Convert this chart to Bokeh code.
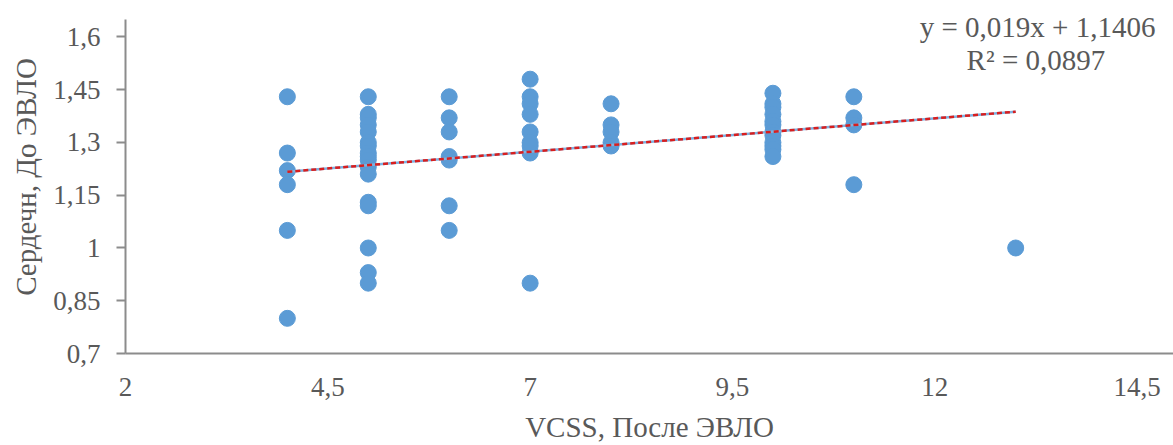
from bokeh.plotting import figure
from bokeh.models import FixedTicker, CustomJSTickFormatter, Label, Range1d
from bokeh.embed import file_html
from bokeh.resources import INLINE

# VCSS after treatment (x) vs. cardiac index before treatment (y)
vcss_4 = [1.43, 1.27, 1.22, 1.18, 1.05, 0.80]
vcss_5 = [1.43, 1.38, 1.37, 1.35, 1.33, 1.30, 1.29, 1.27, 1.26, 1.25, 1.23, 1.21,
          1.13, 1.12, 1.00, 0.93, 0.90]
vcss_6 = [1.43, 1.37, 1.33, 1.26, 1.25, 1.12, 1.05]
vcss_7 = [1.48, 1.43, 1.41, 1.38, 1.33, 1.30, 1.29, 1.27, 0.90]
vcss_8 = [1.41, 1.35, 1.33, 1.30, 1.29]
vcss_10 = [1.44, 1.41, 1.40, 1.38, 1.36, 1.35, 1.33, 1.32, 1.30, 1.29, 1.28, 1.26]
vcss_11 = [1.43, 1.37, 1.35, 1.18]
vcss_13 = [1.00]

groups = {4: vcss_4, 5: vcss_5, 6: vcss_6, 7: vcss_7, 8: vcss_8,
          10: vcss_10, 11: vcss_11, 13: vcss_13}
xs = [k for k, vals in groups.items() for _ in vals]
ys = [v for vals in groups.values() for v in vals]

# Linear trend as stated on the chart
slope = 0.019
intercept = 1.1406
r2 = 0.0897
trend_x = [min(xs), max(xs)]
trend_y = [slope * x + intercept for x in trend_x]

x_ticks = [2, 4.5, 7, 9.5, 12, 14.5]
y_ticks = [0.7, 0.85, 1.0, 1.15, 1.3, 1.45, 1.6]

FONT = "Liberation Serif"
TEXT = "#595959"
AXIS = "#8C8C8C"

# The frame reaches the top edge so the equation text has room;
# the visible y axis line stops at 1.65.
p = figure(width=1173, height=445, output_backend="svg", toolbar_location=None,
           x_range=Range1d(2, 14.95), y_range=Range1d(0.7, 1.7037),
           min_border_left=125, min_border_right=0, min_border_top=0,
           min_border_bottom=90)
p.outline_line_color = None
p.xgrid.visible = False
p.ygrid.visible = False
p.background_fill_color = "white"
p.border_fill_color = "white"

fmt = CustomJSTickFormatter(code="return String(Math.round(tick*100)/100).replace('.', ',');")

p.xaxis.ticker = FixedTicker(ticks=x_ticks)
p.yaxis.ticker = FixedTicker(ticks=y_ticks)
p.xaxis.formatter = fmt
p.yaxis.formatter = fmt
p.yaxis.bounds = (0.7, 1.65)

for ax in (p.xaxis, p.yaxis):
    ax.axis_line_color = AXIS
    ax.axis_line_width = 2
    ax.major_tick_line_color = AXIS
    ax.major_tick_line_width = 2
    ax.minor_tick_line_color = None
    ax.major_tick_in = 0
    ax.major_label_text_font = FONT
    ax.major_label_text_font_size = "27px"
    ax.major_label_text_color = TEXT
    ax.axis_label_text_font = FONT
    ax.axis_label_text_font_size = "29px"
    ax.axis_label_text_color = TEXT
    ax.axis_label_text_font_style = "normal"

p.xaxis.major_tick_out = 0
p.xaxis.major_label_standoff = 24
p.xaxis.axis_label = "VCSS, После ЭВЛО"
p.xaxis.axis_label_standoff = 12
p.yaxis.major_tick_out = 9
p.yaxis.major_label_standoff = 16
p.yaxis.axis_label = "Сердечн, До ЭВЛО"
p.yaxis.axis_label_standoff = 8

p.scatter(xs, ys, size=16, color="#5B9BD5", line_color="#5B9BD5")

p.line(trend_x, trend_y, line_color="#7FB2E0", line_width=2.5)
p.line(trend_x, trend_y, line_color="#D81E1E", line_width=2.5, line_dash="5 3")

eq = "y = {:.3f}x + {:.4f}".format(slope, intercept).replace(".", ",")
r2_text = "R² = {:.4f}".format(r2).replace(".", ",")
p.add_layout(Label(x=13.27, y=1.627, text=eq, text_align="center",
                   text_baseline="middle", text_font=FONT,
                   text_font_size="29px", text_color=TEXT))
p.add_layout(Label(x=13.25, y=1.534, text=r2_text, text_align="center",
                   text_baseline="middle", text_font=FONT,
                   text_font_size="29px", text_color=TEXT))

open("out.html", "w").write(file_html(p, INLINE))
